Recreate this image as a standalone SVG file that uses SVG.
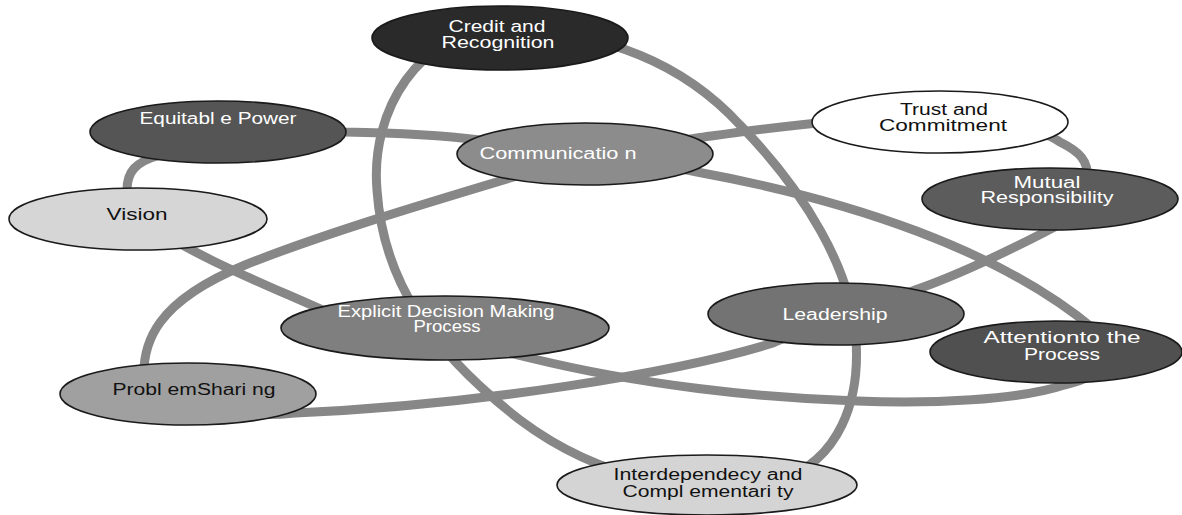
<svg xmlns="http://www.w3.org/2000/svg" width="1182" height="515" viewBox="0 0 1182 515">
<style>
.loop{fill:none;stroke:#878787;stroke-width:9;stroke-linejoin:round}
.node{stroke:#1a1a1a;stroke-width:1.6}
text{font-family:"Liberation Sans",Arial,sans-serif;font-size:16px;text-anchor:middle}
.w{fill:#ffffff}
.k{fill:#111111}
</style>
<rect width="1182" height="515" fill="#ffffff"/>
<g id="connectors">
<path class="loop" d="M 500 30 C 420 30, 370 110, 377 190 C 383 280, 430 350, 520 420 C 600 480, 700 500, 780 480 C 840 460, 860 400, 856 340 C 852 270, 805 192, 740 125 C 680 60, 600 30, 500 30 Z"/>
<path class="loop" d="M 145 390 C 138 340, 160 300, 245 265 C 320 235, 420 205, 510 178 C 580 155, 650 145, 697 138 C 740 132, 780 126, 830 122 C 1000 118, 1040 128, 1060 142 C 1080 152, 1088 160, 1088 180 C 1090 200, 1070 220, 1045 232 C 1000 255, 950 278, 915 290 C 860 310, 800 330, 773 343 C 680 372, 480 405, 295 413 C 250 418, 170 410, 145 390 Z"/>
<path class="loop" d="M 340 318 C 280 290, 200 260, 150 225 C 135 215, 127 205, 127 190 C 127 172, 135 162, 160 155 C 220 135, 300 130, 345 132 C 400 133, 440 135, 480 140 C 560 150, 640 160, 697 172 C 850 200, 1000 250, 1095 330 C 1120 350, 1110 375, 1064 385 C 1020 400, 930 404, 857 401 C 760 398, 640 385, 530 358 C 480 345, 400 335, 340 318 Z"/>
</g>
<g id="credit">
<ellipse class="node" cx="500" cy="38" rx="128" ry="32" fill="#2a2a2a"/>
<text class="w" x="497" y="32" textLength="97" lengthAdjust="spacingAndGlyphs">Credit and</text>
<text class="w" x="498" y="48" textLength="113" lengthAdjust="spacingAndGlyphs">Recognition</text>
</g>
<g id="equitable">
<ellipse class="node" cx="218" cy="132" rx="128" ry="31" fill="#555555"/>
<text class="w" x="218" y="124" textLength="157" lengthAdjust="spacingAndGlyphs">Equitabl e Power</text>
</g>
<g id="communication">
<ellipse class="node" cx="585" cy="154" rx="128" ry="31" fill="#8c8c8c"/>
<text class="w" x="558" y="159" textLength="157" lengthAdjust="spacingAndGlyphs">Communicatio n</text>
</g>
<g id="trust">
<ellipse class="node" cx="940" cy="122" rx="128" ry="31" fill="#ffffff"/>
<text class="k" x="944" y="115" textLength="88" lengthAdjust="spacingAndGlyphs">Trust and</text>
<text class="k" x="943" y="131" textLength="128" lengthAdjust="spacingAndGlyphs">Commitment</text>
</g>
<g id="mutual">
<ellipse class="node" cx="1050" cy="199" rx="128" ry="31" fill="#5c5c5c"/>
<text class="w" x="1047" y="188" textLength="67" lengthAdjust="spacingAndGlyphs">Mutual</text>
<text class="w" x="1047" y="203" textLength="133" lengthAdjust="spacingAndGlyphs">Responsibility</text>
</g>
<g id="vision">
<ellipse class="node" cx="138" cy="219" rx="129" ry="31" fill="#d6d6d6"/>
<text class="k" x="137" y="220" textLength="61" lengthAdjust="spacingAndGlyphs">Vision</text>
</g>
<g id="explicit">
<ellipse class="node" cx="445" cy="328" rx="164" ry="32" fill="#7f7f7f"/>
<text class="w" x="446" y="317" textLength="217" lengthAdjust="spacingAndGlyphs">Explicit Decision Making</text>
<text class="w" x="447" y="332" textLength="67" lengthAdjust="spacingAndGlyphs">Process</text>
</g>
<g id="leadership">
<ellipse class="node" cx="836" cy="314" rx="128" ry="31" fill="#737373"/>
<text class="w" x="835" y="320" textLength="105" lengthAdjust="spacingAndGlyphs">Leadership</text>
</g>
<g id="attention">
<ellipse class="node" cx="1056" cy="352" rx="126" ry="31" fill="#505050"/>
<text class="w" x="1062" y="343" textLength="157" lengthAdjust="spacingAndGlyphs">Attentionto the</text>
<text class="w" x="1062" y="360" textLength="76" lengthAdjust="spacingAndGlyphs">Process</text>
</g>
<g id="problem">
<ellipse class="node" cx="188" cy="394" rx="128" ry="31" fill="#a0a0a0"/>
<text class="k" x="194" y="395" textLength="163" lengthAdjust="spacingAndGlyphs">Probl emShari ng</text>
</g>
<g id="interdependency">
<ellipse class="node" cx="707" cy="485" rx="150" ry="30" fill="#d4d4d4"/>
<text class="k" x="708" y="480" textLength="189" lengthAdjust="spacingAndGlyphs">Interdependecy and</text>
<text class="k" x="708" y="497" textLength="171" lengthAdjust="spacingAndGlyphs">Compl ementari ty</text>
</g>
</svg>
